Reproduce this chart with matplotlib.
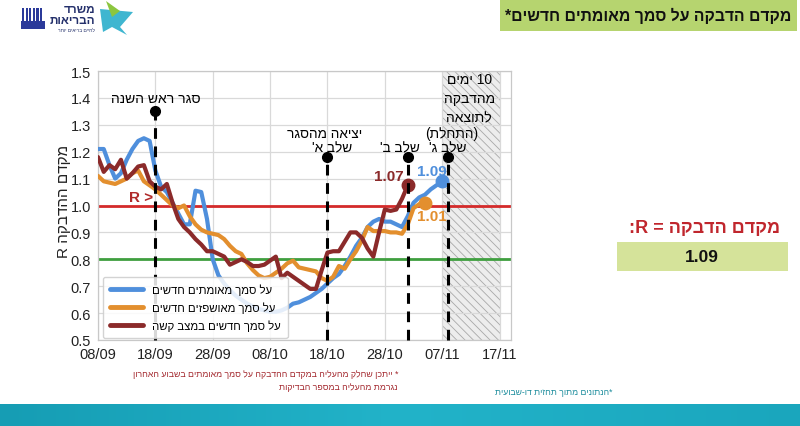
import re
import numpy as np
import matplotlib
matplotlib.use("Agg")
import matplotlib.pyplot as plt
from matplotlib.patches import Rectangle, Polygon
from matplotlib.colors import LinearSegmentedColormap

plt.rcParams['font.family'] = ['Liberation Sans', 'DejaVu Sans']
plt.rcParams['hatch.linewidth'] = 0.6

# ---------------- data ----------------
tick_days = [0, 10, 20, 30, 40, 50, 60, 70]
tick_labels = ["08/09", "18/09", "28/09", "08/10", "18/10", "28/10", "07/11", "17/11"]

confirmed = [1.21, 1.21, 1.15, 1.10, 1.12, 1.17, 1.21, 1.24, 1.25, 1.24,
             1.13, 1.07, 1.05, 1.01, 0.97, 0.93, 0.93, 1.055, 1.05, 0.95,
             0.80, 0.74, 0.71, 0.685, 0.665, 0.65, 0.635, 0.625, 0.615, 0.61,
             0.605, 0.605, 0.61, 0.62, 0.635, 0.64, 0.65, 0.66, 0.675, 0.69,
             0.71, 0.73, 0.745, 0.775, 0.81, 0.85, 0.88, 0.92, 0.94, 0.95,
             0.94, 0.94, 0.93, 0.92, 0.96, 1.01, 1.03, 1.04, 1.06, 1.075, 1.09]
hospitalized = [1.11, 1.09, 1.085, 1.08, 1.09, 1.10, 1.12, 1.13, 1.09, 1.075,
                1.06, 1.04, 1.02, 1.00, 0.99, 1.00, 0.96, 0.93, 0.91, 0.90,
                0.895, 0.89, 0.875, 0.85, 0.83, 0.82, 0.785, 0.76, 0.74, 0.73,
                0.735, 0.75, 0.765, 0.785, 0.795, 0.77, 0.765, 0.76, 0.755, 0.73,
                0.72, 0.735, 0.775, 0.765, 0.80, 0.83, 0.87, 0.92, 0.905, 0.905,
                0.905, 0.90, 0.90, 0.895, 0.93, 0.99, 1.005, 1.01]
severe = [1.18, 1.125, 1.15, 1.135, 1.17, 1.10, 1.12, 1.145, 1.15, 1.09,
          1.07, 1.06, 1.08, 1.01, 0.95, 0.92, 0.90, 0.875, 0.855, 0.83,
          0.83, 0.82, 0.81, 0.78, 0.79, 0.80, 0.79, 0.775, 0.775, 0.78,
          0.795, 0.81, 0.73, 0.75, 0.735, 0.72, 0.705, 0.69, 0.69, 0.76,
          0.825, 0.83, 0.83, 0.865, 0.90, 0.90, 0.88, 0.84, 0.81, 0.90,
          0.985, 0.98, 0.985, 1.025, 1.075]

series_labels = ["על סמך מאומתים חדשים", "על סמך מאושפזים חדשים", "על סמך חדשים במצב קשה"]
series_colors = ["#4f8fdc", "#e38f2e", "#8b2a2a"]
end_labels = ["1.09", "1.01", "1.07"]

event_days = [10, 40, 54, 61]
event_tops = [1.35, 1.18, 1.18, 1.18]
event_texts = [["סגר ראש השנה"], ["יציאה מהסגר", "שלב א'"], ["שלב ב'"], ["(התחלת)", "שלב ג'"]]

hatch_span = (60, 70)
hatch_text = ["10 ימים", "מהדבקה", "לתוצאה"]

r_threshold = 1.0
green_level = 0.8
current_r = "1.09"


def rtl(s):
    """Convert a logical RTL line into visual LTR glyph order."""
    out_lines = []
    for line in s.split("\n"):
        toks = re.findall(r'[0-9A-Za-z.]+|[^0-9A-Za-z.]+', line)
        res = []
        for t in reversed(toks):
            if re.fullmatch(r'[0-9A-Za-z.]+', t):
                res.append(t)
            else:
                r = t[::-1]
                r = r.translate(str.maketrans("()", ")("))
                res.append(r)
        out_lines.append("".join(res))
    return "\n".join(out_lines)


W, H = 800, 427
fig = plt.figure(figsize=(W / 100, H / 100), dpi=100)
fig.patch.set_facecolor("white")

# background/decoration axes in pixel coordinates
bg = fig.add_axes([0, 0, 1, 1], zorder=0)
bg.axis("off")

# header green box
bg.add_patch(Rectangle((500, 1), 297, 31, facecolor="#b6d46f", edgecolor="none"))
bg.text(791, 16, rtl("מקדם הדבקה על סמך מאומתים חדשים*"), ha="right", va="center",
        fontsize=11.3, fontweight="bold", color="#111111")

# logo (approximation)
bg.add_patch(Polygon([[100, 10], [133, 13], [120, 28], [127, 36], [112, 28], [103, 33]],
                     closed=True, facecolor="#3fb6d0", edgecolor="none"))
bg.add_patch(Polygon([[106, 2], [112, 18], [120, 12]], closed=True,
                     facecolor="#8cc63f", edgecolor="none"))
bg.text(95, 10, rtl("משרד"), ha="right", va="center", fontsize=8.5,
        fontweight="bold", color="#24306b")
bg.text(95, 21, rtl("הבריאות"), ha="right", va="center", fontsize=8.5,
        fontweight="bold", color="#24306b")
bg.text(95, 30, rtl("לחיים בריאים יותר"), ha="right", va="center", fontsize=3.5,
        color="#24306b")
for i in range(6):
    bg.add_patch(Rectangle((22 + i * 3.6, 9), 2.2, 14, facecolor="#2b3a9a", edgecolor="none"))
bg.add_patch(Rectangle((21, 22), 24, 8, facecolor="#2b3a9a", edgecolor="none"))

# right side panel
bg.text(780, 229, rtl("מקדם הדבקה = R:"), ha="right", va="center", fontsize=13,
        fontweight="bold", color="#c0262d")
bg.add_patch(Rectangle((617, 243), 171, 29, facecolor="#d5e39a", edgecolor="none"))
bg.text(702, 257.5, current_r, ha="center", va="center", fontsize=12.5,
        fontweight="bold", color="#111111")

# footnotes
bg.text(398, 375, rtl("* ייתכן שחלק מהעליה במקדם ההדבקה על סמך מאומתים בשבוע האחרון"),
        ha="right", va="center", fontsize=6.3, color="#a3282e")
bg.text(398, 388, rtl("נגרמת מהעליה במספר הבדיקות"),
        ha="right", va="center", fontsize=6.3, color="#a3282e")
bg.text(612, 393, rtl("*הנתונים מתוך תחזית דו-שבועית"),
        ha="right", va="center", fontsize=6.2, color="#1b8c9c")

# bottom bar gradient
grad = np.linspace(0, 1, 256).reshape(1, -1)
cmap = LinearSegmentedColormap.from_list("bar", ["#169db4", "#22b3c9", "#1aa6bd"])
bg.imshow(grad, extent=[0, W, H, 405], aspect="auto", cmap=cmap, zorder=1)
bg.set_xlim(0, W)
bg.set_ylim(H, 0)

# ---------------- main chart ----------------
ax = fig.add_axes([98 / W, 1 - 341 / H, (511 - 98) / W, (341 - 72) / H], zorder=2)
ax.set_xlim(0, 72)
ax.set_ylim(0.5, 1.5)
ax.set_xticks(tick_days)
ax.set_xticklabels(tick_labels, fontsize=10.5, color="#222222")
yt = np.round(np.arange(0.5, 1.51, 0.1), 1)
ax.set_yticks(yt)
ax.set_yticklabels([f"{v:.1f}" for v in yt], fontsize=10.5, color="#222222")
ax.tick_params(length=0, pad=5)
ax.grid(True, color="#d9d9d9", lw=0.9)
ax.set_axisbelow(True)
for sp in ax.spines.values():
    sp.set_color("#c8c8c8")
    sp.set_linewidth(0.9)

ax.set_ylabel(rtl("מקדם ההדבקה R"), fontsize=11, color="#222222")
ax.yaxis.set_label_coords(-0.066, 0.52)

# hatched region
ax.axvspan(hatch_span[0], hatch_span[1], facecolor="#ededed", edgecolor="#a8a8a8",
           hatch="\\\\\\\\", lw=0.6, zorder=0.5)

# reference lines
ax.axhline(r_threshold, color="#d42a2a", lw=2, zorder=2)
ax.axhline(green_level, color="#3f9f3f", lw=2, zorder=2)

# series
all_series = [confirmed, hospitalized, severe]
handles = []
for vals, col, lab in zip(all_series, series_colors, series_labels):
    x = np.arange(len(vals))
    h, = ax.plot(x, vals, color=col, lw=3, solid_joinstyle="round",
                 solid_capstyle="round", zorder=4, label=rtl(lab))
    ax.plot(x[-1], vals[-1], "o", color=col, ms=9, zorder=5)
    handles.append(h)

# end labels
ax.text(len(confirmed) - 1 - 1.8, confirmed[-1] + 0.037, end_labels[0], color=series_colors[0],
        fontsize=11, fontweight="bold", ha="center", va="center", zorder=6)
ax.text(len(hospitalized) - 1 + 1.2, hospitalized[-1] - 0.05, end_labels[1],
        color=series_colors[1], fontsize=11, fontweight="bold", ha="center", va="center", zorder=6)
ax.text(len(severe) - 1 - 3.3, severe[-1] + 0.035, end_labels[2], color=series_colors[2],
        fontsize=11, fontweight="bold", ha="center", va="center", zorder=6)

# R > label
ax.text(9.6, 1.03, "R >", color="#b02a2a", fontsize=11, fontweight="bold",
        ha="right", va="center", zorder=3)

# event lines
for d, top in zip(event_days, event_tops):
    ax.plot([d, d], [0.5, top], color="black", lw=2.2, ls=(0, (3.5, 2.5)), zorder=6,
            clip_on=False)
    ax.plot(d, top, "o", color="black", ms=7, zorder=7)

fs_ev = 9.8
ax.text(event_days[0], 1.40, rtl(event_texts[0][0]), ha="center", va="center", fontsize=10)
ax.text(event_days[1] - 0.5, 1.27, rtl(event_texts[1][0]), ha="center", va="center", fontsize=fs_ev)
ax.text(event_days[1] + 0.9, 1.215, rtl(event_texts[1][1]), ha="center", va="center", fontsize=fs_ev)
ax.text(event_days[2] - 1.3, 1.215, rtl(event_texts[2][0]), ha="center", va="center", fontsize=fs_ev)
ax.text(event_days[3] + 0.6, 1.27, rtl(event_texts[3][0]), ha="center", va="center", fontsize=fs_ev)
ax.text(event_days[3], 1.215, rtl(event_texts[3][1]), ha="center", va="center", fontsize=fs_ev)
for line, yv in zip(hatch_text, [1.47, 1.398, 1.327]):
    ax.text(64.7, yv, rtl(line), ha="center", va="center", fontsize=10)

leg = ax.legend(handles=handles, loc="upper left", bbox_to_anchor=(0.012, 0.234),
                fontsize=8.2, frameon=True, framealpha=0.85, edgecolor="#cccccc",
                handlelength=2.9, borderpad=0.6, labelspacing=0.55, borderaxespad=0)
leg.set_zorder(8)
for lh in leg.get_lines():
    lh.set_linewidth(3.5)

fig.savefig("out.png", dpi=100)
